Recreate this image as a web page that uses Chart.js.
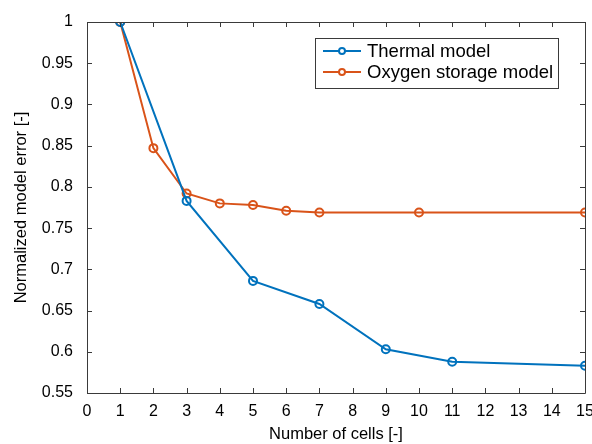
<!DOCTYPE html>
<html>
<head>
<meta charset="utf-8">
<script src="https://cdn.jsdelivr.net/npm/chart.js@4/dist/chart.umd.min.js"></script>
<style>
  html, body { margin: 0; padding: 0; background: #fff; }
  #wrap { width: 592px; height: 444px; }
</style>
</head>
<body>
<div id="wrap"><canvas id="chart" width="592" height="444"></canvas></div>
<script>
// data
const cellsThermal = [1, 3, 5, 7, 9, 11, 15];
const errThermal = [1, 0.783, 0.686, 0.658, 0.603, 0.588, 0.583];
const cellsOxygen = [1, 2, 3, 4, 5, 6, 7, 10, 15];
const errOxygen = [1, 0.847, 0.792, 0.780, 0.778, 0.771, 0.769, 0.769, 0.769];
const xTicks = [0, 1, 2, 3, 4, 5, 6, 7, 8, 9, 10, 11, 12, 13, 14, 15];
const yTicks = [0.55, 0.6, 0.65, 0.7, 0.75, 0.8, 0.85, 0.9, 0.95, 1];
const seriesNames = ['Thermal model', 'Oxygen storage model'];

const BLUE = '#0072BD';
const ORANGE = '#D95319';
const AXIS = '#3a3a3a';
const FONT = "'Liberation Sans', Arial, sans-serif";

function toPoints(xs, ys) {
  return xs.map((x, i) => ({ x: x, y: ys[i] }));
}

// box + inward ticks, MATLAB style
const boxPlugin = {
  id: 'box',
  afterDraw(chart) {
    const { ctx, chartArea: a, scales } = chart;
    const len = 5;
    ctx.save();
    ctx.strokeStyle = AXIS;
    ctx.lineWidth = 1;
    ctx.beginPath();
    ctx.rect(Math.round(a.left) + 0.5, Math.round(a.top) + 0.5,
      Math.round(a.right - a.left), Math.round(a.bottom - a.top));
    xTicks.forEach(v => {
      const px = Math.round(scales.x.getPixelForValue(v)) + 0.5;
      ctx.moveTo(px, a.bottom); ctx.lineTo(px, a.bottom - len);
      ctx.moveTo(px, a.top); ctx.lineTo(px, a.top + len);
    });
    yTicks.forEach(v => {
      const py = Math.round(scales.y.getPixelForValue(v)) + 0.5;
      ctx.moveTo(a.left, py); ctx.lineTo(a.left + len, py);
      ctx.moveTo(a.right, py); ctx.lineTo(a.right - len, py);
    });
    ctx.stroke();
    ctx.restore();
  }
};

// legend box drawn inside the plot, top right
const legendPlugin = {
  id: 'boxLegend',
  afterDraw(chart) {
    const { ctx } = chart;
    const x0 = 315, y0 = 38, w = 243, h = 50;
    ctx.save();
    ctx.fillStyle = '#fff';
    ctx.fillRect(x0, y0, w, h);
    ctx.strokeStyle = AXIS;
    ctx.lineWidth = 1;
    ctx.strokeRect(x0 + 0.5, y0 + 0.5, w, h);
    ctx.font = '18.5px ' + FONT;
    ctx.textBaseline = 'middle';
    chart.data.datasets.forEach((ds, i) => {
      const y = y0 + 13 + i * 21;
      ctx.strokeStyle = ds.borderColor;
      ctx.lineWidth = 2;
      ctx.beginPath();
      ctx.moveTo(x0 + 8, y); ctx.lineTo(x0 + 46, y);
      ctx.stroke();
      ctx.beginPath();
      ctx.arc(x0 + 27, y, 3, 0, Math.PI * 2);
      ctx.fillStyle = '#fff';
      ctx.fill();
      ctx.stroke();
      ctx.fillStyle = '#000';
      ctx.fillText(ds.label, x0 + 52, y + 1);
    });
    ctx.restore();
  }
};

new Chart(document.getElementById('chart'), {
  type: 'line',
  data: {
    datasets: [
      {
        label: seriesNames[0],
        data: toPoints(cellsThermal, errThermal),
        borderColor: BLUE,
        backgroundColor: '#fff',
        borderWidth: 2,
        pointRadius: 4,
        pointBorderWidth: 2,
        pointBackgroundColor: 'rgba(255,255,255,0)',
        pointBorderColor: BLUE,
        tension: 0
      },
      {
        label: seriesNames[1],
        data: toPoints(cellsOxygen, errOxygen),
        borderColor: ORANGE,
        backgroundColor: '#fff',
        borderWidth: 2,
        pointRadius: 4,
        pointBorderWidth: 2,
        pointBackgroundColor: 'rgba(255,255,255,0)',
        pointBorderColor: ORANGE,
        tension: 0
      }
    ]
  },
  options: {
    responsive: false,
    animation: false,
    layout: { padding: { top: 22, right: 7, left: 12, bottom: 0 } },
    plugins: {
      legend: { display: false },
      tooltip: { enabled: false }
    },
    scales: {
      x: {
        type: 'linear',
        min: 0,
        max: 15,
        afterBuildTicks(scale) { scale.ticks = xTicks.map(v => ({ value: v })); },
        afterFit(scale) { scale.height = 51; scale.paddingRight = 0; scale.paddingLeft = 0; },
        grid: { display: false },
        border: { display: false },
        ticks: {
          color: '#000',
          font: { family: FONT, size: 16 },
          padding: 1,
          maxRotation: 0,
          autoSkip: false
        },
        title: {
          display: true,
          text: 'Number of cells [-]',
          color: '#000',
          font: { family: FONT, size: 16.5 },
          padding: { top: 3, bottom: 0 }
        }
      },
      y: {
        type: 'linear',
        min: 0.55,
        max: 1,
        afterBuildTicks(scale) { scale.ticks = yTicks.map(v => ({ value: v })); },
        afterFit(scale) { scale.width = 75; },
        grid: { display: false },
        border: { display: false },
        ticks: {
          color: '#000',
          font: { family: FONT, size: 16 },
          padding: 6,
          callback: v => String(Math.round(v * 100) / 100)
        },
        title: {
          display: true,
          text: 'Normalized model error [-]',
          color: '#000',
          font: { family: FONT, size: 16.5 },
          padding: { top: 0, bottom: 4 }
        }
      }
    }
  },
  plugins: [boxPlugin, legendPlugin]
});
</script>
</body>
</html>
